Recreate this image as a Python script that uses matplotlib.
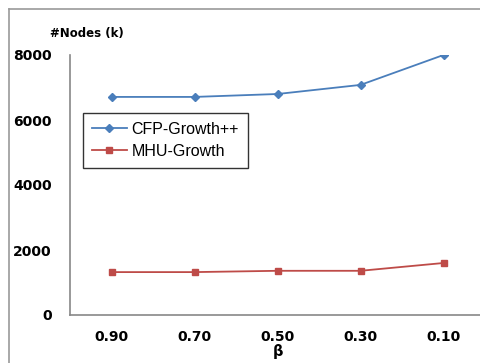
import matplotlib
matplotlib.use("Agg")
import matplotlib.pyplot as plt
from matplotlib.lines import Line2D

categories = ["0.90", "0.70", "0.50", "0.30", "0.10"]
cfp = [6710, 6710, 6800, 7080, 8000]
mhu = [1320, 1320, 1360, 1360, 1600]
yticks = [0, 2000, 4000, 6000, 8000]

W, H = 480, 363
fig = plt.figure(figsize=(W/100, H/100), dpi=100)
# axes: left x=70, right x=485, bottom y=315, top y=55 (8000)
ax = fig.add_axes([70/W, 1-315/H, (485-70)/W, (315-55)/H])
x = list(range(len(categories)))
ax.plot(x, cfp, color="#4A7EBB", marker="D", markersize=4, lw=1.3, label="CFP-Growth++")
ax.plot(x, mhu, color="#BE4B48", marker="s", markersize=5, lw=1.3, label="MHU-Growth")
ax.set_xlim(-0.5, 4.5)
ax.set_ylim(0, 8000)
ax.set_yticks(yticks)
ax.set_yticklabels([str(v) for v in yticks])
ax.set_xticks(x)
ax.set_xticklabels(categories)
for s in ["top", "right"]:
    ax.spines[s].set_visible(False)
for s in ["left", "bottom"]:
    ax.spines[s].set_color("#878787")
    ax.spines[s].set_linewidth(1.2)
ax.tick_params(length=0, labelsize=10)
ax.tick_params(axis="y", pad=13)
ax.tick_params(axis="x", pad=10.5)
for lab in ax.get_xticklabels() + ax.get_yticklabels():
    lab.set_fontweight("bold")
ax.set_xlabel("β", fontweight="bold", fontsize=10.5, labelpad=0)
fig.text(50/W, 1-34/H, "#Nodes (k)", fontsize=8.5, fontweight="bold", va="center", ha="left")
leg = ax.legend(loc="upper left", bbox_to_anchor=((83-70)/(485-70), (315-113)/(315-55)),
                frameon=True, fancybox=False, edgecolor="black",
                borderaxespad=0, handlelength=2.2, handletextpad=0.3, borderpad=0.55, labelspacing=0.45,
                prop={"family": "Liberation Sans", "size": 11.5})
leg.get_frame().set_linewidth(1.0)
# outer chart border (top and left)
fig.add_artist(Line2D([9/W, 1], [1-9/H, 1-9/H], color="#9a9a9a", lw=1.2, transform=fig.transFigure))
fig.add_artist(Line2D([9/W, 9/W], [0, 1-9/H], color="#9a9a9a", lw=1.2, transform=fig.transFigure))
fig.savefig("out.png", dpi=100)
